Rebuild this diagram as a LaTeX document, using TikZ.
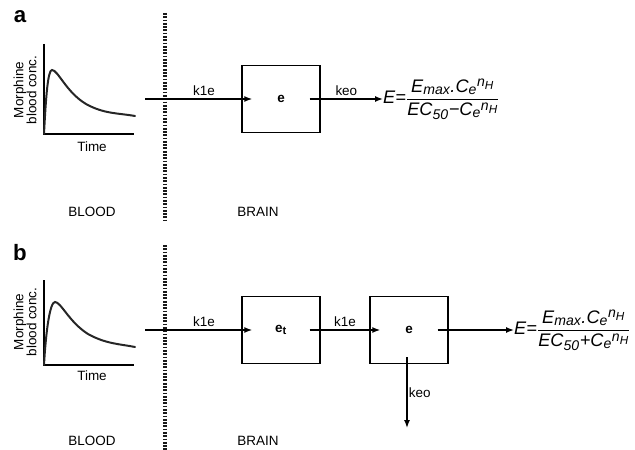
\documentclass[tikz,border=0pt]{standalone}
\usepackage{amsmath}
\usepackage{fontspec}
\setmainfont{Liberation Sans}
\DeclareMathSizes{15.5}{15.5}{12}{10}
\DeclareMathSizes{11.5}{11.5}{9.5}{8}
\usepackage{tikz}
\usetikzlibrary{arrows.meta,positioning,calc}
\tikzset{
  pkbox/.style={draw,line width=0.9pt,minimum width=2.34cm,minimum height=2.01cm,font=\bfseries\fontsize{11.5}{13}\selectfont,inner sep=0pt},
  pkcore/.style={minimum width=1.71cm,minimum height=1.62cm,inner sep=0pt},
  pkflow/.style={-{Latex[length=2.4mm,width=1.8mm]},line width=1.2pt},
  pklabel/.style={font=\fontsize{11.5}{13}\selectfont,inner sep=2pt},
  pkaxis/.style={line width=1.1pt},
  pkcurve/.style={line width=1.7pt,line cap=round,black!85},
  pkwall/.style={line width=2.8pt,dash pattern=on 1.5pt off 1.3pt,black!90},
  pkpanel/.style={font=\bfseries\fontsize{19}{21}\selectfont,inner sep=0pt},
  pkeq/.style={font=\fontsize{15.5}{18}\selectfont,inner sep=0pt,anchor=west},
}
\newcommand{\pkeqn}[1]{$\textit{E}{\textit{=}}\dfrac{\textit{E}_{\textit{max}}\textit{.}\textit{C}_{\textit{e}}{}^{\textit{n}_{\textit{H}}}}{\textit{EC}_{\textit{50}}{\textit{#1}}\textit{C}_{\textit{e}}{}^{\textit{n}_{\textit{H}}}}$}

\begin{document}
\begin{tikzpicture}[x=0.03cm,y=-0.03cm]
\useasboundingbox (0,0) rectangle (635,450);
% ---- panel a ----
\node[pkpanel] (pa) at (20,17) {a};
\draw[pkaxis] (44,44) -- (44,134) -- (134,134);
\draw[pkcurve] (44,134) .. controls (46,95) and (48,70) .. (52,70)
  .. controls (58,70) and (66,92) .. (86,104) .. controls (104,114) and (118,113) .. (135,116);
\node[pklabel,rotate=90,align=center] (ya) at (25,90) {Morphine\\[-2pt]blood conc.};
\node[pklabel] (ta) at (92,147) {Time};
\node[pklabel] (bla) at (92,212) {BLOOD};
\node[pklabel] (bra) at (258,212) {BRAIN};
\draw[pkwall] (165,13) -- (165,221);
\coordinate (sa) at (145,99);
\node[pkbox] (ea) at (281,99) {e};
\node[pkcore] (eacore) at (ea.center) {};
\node[pkeq] (fa) at (383,99) {\pkeqn{−}};
\draw[pkflow] (sa) -- node[pklabel,above,pos=0.55]{k1e} (eacore);
\draw[pkflow] (eacore) -- node[pklabel,above]{keo} (fa.west);
% ---- panel b ----
\node[pkpanel] (pb) at (20,253) {b};
\draw[pkaxis] (44,280) -- (44,365) -- (134,365);
\draw[pkcurve] (44,365) .. controls (46,330) and (50,302) .. (55,302)
  .. controls (61,302) and (69,322) .. (88,334) .. controls (106,344) and (120,344) .. (135,347);
\node[pklabel,rotate=90,align=center] (yb) at (25,322) {Morphine\\[-2pt]blood conc.};
\node[pklabel] (tb) at (92,376) {Time};
\node[pklabel] (blb) at (92,441) {BLOOD};
\node[pklabel] (brb) at (258,441) {BRAIN};
\draw[pkwall] (165,245) -- (165,450);
\coordinate (sb) at (145,330);
\node[pkbox] (et) at (281,330) {$\textbf{e}_{\textrm{t}}$};
\node[pkcore] (etcore) at (et.center) {};
\node[pkbox] (eb) at (409,330) {e};
\node[pkcore] (ebcore) at (eb.center) {};
\node[pkeq] (fb) at (514,330) {\pkeqn{+}};
\coordinate (sink) at (407,428);
\draw[pkflow] (sb) -- node[pklabel,above,pos=0.55]{k1e} (etcore);
\draw[pkflow] (etcore) -- node[pklabel,above]{k1e} (ebcore);
\draw[pkflow] (ebcore) -- (fb.west);
\draw[pkflow] (ebcore.south -| sink) -- node[pklabel,right,inner sep=1pt]{keo} (sink);
\end{tikzpicture}
\end{document}
